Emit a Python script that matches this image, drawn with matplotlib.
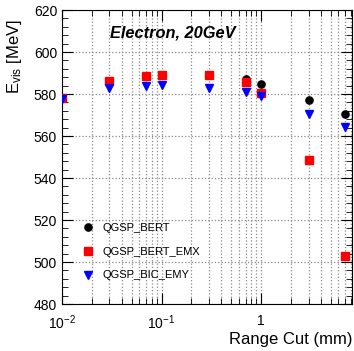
import matplotlib
matplotlib.use('Agg')
import matplotlib.pyplot as plt
from matplotlib.ticker import LogLocator, MultipleLocator, FixedLocator

plt.rcParams['font.family'] = ['Liberation Sans', 'DejaVu Sans']
plt.rcParams['mathtext.fontset'] = 'custom'
plt.rcParams['mathtext.rm'] = 'Liberation Sans'
plt.rcParams['mathtext.it'] = 'Liberation Sans:italic'

cuts = [0.01, 0.03, 0.07, 0.1, 0.3, 0.7, 1.0, 3.0, 7.0]
bert = [578.0, 586.0, 588.5, 589.0, 589.0, 587.0, 585.0, 577.0, 570.5]
bert_emx = [578.0, 586.0, 588.6, 589.0, 589.0, 585.5, 580.5, 548.5, 503.0]
bic_emy = [577.5, 583.0, 584.0, 584.5, 583.0, 581.0, 579.0, 570.5, 564.5]

fig = plt.figure(figsize=(3.54, 3.51), dpi=100)
ax = fig.add_axes([62/354, 1 - 304/351, 290/354, 294/351])

ax.plot(cuts, bert, 'o', color='black', ms=5.2, label='QGSP_BERT', zorder=3)
ax.plot(cuts, bert_emx, 's', color='red', ms=5.6, label='QGSP_BERT_EMX', zorder=4)
ax.plot(cuts, bic_emy, 'v', color='blue', ms=5.8, label='QGSP_BIC_EMY', zorder=5)

ax.set_xscale('log')
ax.set_xlim(0.01, 8.2)
ax.set_ylim(480, 620)

ax.xaxis.set_major_locator(FixedLocator([0.01, 0.1, 1]))
ax.set_xticklabels(['$\\mathregular{10^{-2}}$', '$\\mathregular{10^{-1}}$', '1'])
ax.xaxis.set_minor_locator(LogLocator(base=10, subs=range(2, 10), numticks=20))
ax.yaxis.set_major_locator(MultipleLocator(20))
ax.yaxis.set_minor_locator(MultipleLocator(4))

ax.tick_params(which='both', direction='in', top=True, right=True, labelsize=10)
ax.tick_params(which='major', length=8)
ax.tick_params(which='minor', length=4)
ax.tick_params(axis='x', which='major', pad=7)
ax.tick_params(axis='x', which='minor', labelbottom=False)

ax.grid(True, which='major', axis='both', ls=':', color='#888888', lw=0.9)
ax.grid(True, which='minor', axis='x', ls=':', color='#888888', lw=0.9)
ax.set_axisbelow(True)

ax.text(0.165, 0.905, 'Electron, 20GeV', transform=ax.transAxes,
        fontsize=11.8, fontweight='bold', fontstyle='italic')

ax.set_ylabel('E$_{\\mathregular{vis}}$ [MeV]', fontsize=12)
ax.yaxis.set_label_coords(-0.13, 0.84)
ax.set_xlabel('Range Cut (mm)', fontsize=12)
ax.xaxis.set_label_coords(0.79, -0.095)

leg = ax.legend(loc='lower left', bbox_to_anchor=(0.035, 0.065), frameon=False,
                fontsize=8, handletextpad=0.3, labelspacing=1.25, borderaxespad=0)

fig.savefig('out.png', dpi=100)
